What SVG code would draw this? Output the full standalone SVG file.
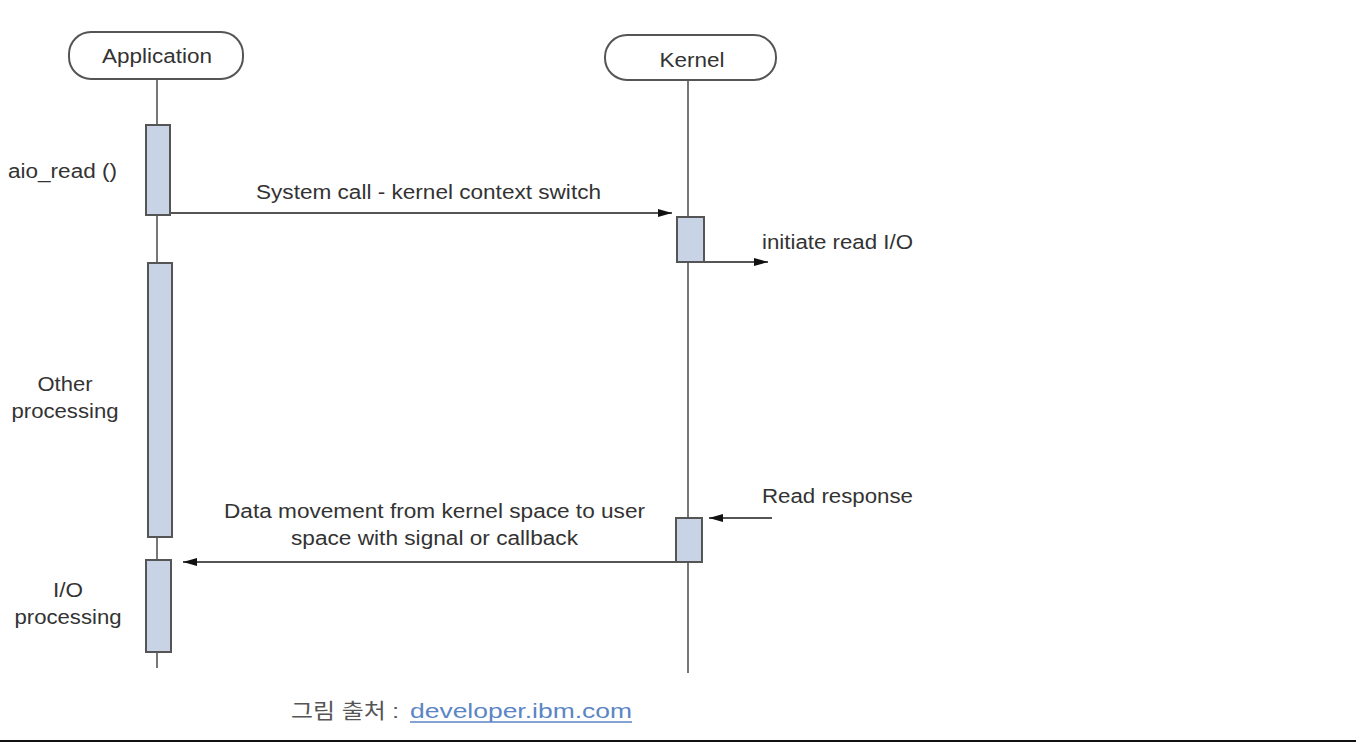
<svg xmlns="http://www.w3.org/2000/svg" width="1356" height="742" viewBox="0 0 1356 742">
<defs>
<style>
.lbl{font-family:"Liberation Sans",Arial,sans-serif;font-size:20px;fill:#333;}
.head{fill:#fff;stroke:#555;stroke-width:2;}
.life{stroke:#777;stroke-width:2;fill:none;}
.act{fill:#c9d3e6;stroke:#555;stroke-width:2;}
.msg{stroke:#555;stroke-width:2;fill:none;}
.cap{font-family:"Liberation Sans","Noto Sans CJK KR",sans-serif;font-size:21px;fill:#555;}
.link{font-family:"Liberation Sans",sans-serif;font-size:21px;fill:#5b85c4;}
</style>
<marker id="ah" viewBox="0 0 14 10" refX="14" refY="5" markerWidth="14" markerHeight="10" markerUnits="userSpaceOnUse" orient="auto">
<path d="M0,1 L14,5 L0,9 Z" fill="#111"/>
</marker>
</defs>
<rect width="1356" height="742" fill="#fff"/>

<g id="lifelines">
<line class="life" x1="157" y1="79" x2="157" y2="668"/>
<line class="life" x1="688" y1="80" x2="688" y2="673"/>
</g>

<g id="application">
<rect class="head" x="69" y="32" width="174" height="47" rx="22" ry="22"/>
<text class="lbl" x="157" y="63" text-anchor="middle" textLength="110" lengthAdjust="spacingAndGlyphs">Application</text>
</g>

<g id="kernel">
<rect class="head" x="605" y="35" width="171" height="45" rx="22" ry="22"/>
<text class="lbl" x="692" y="67" text-anchor="middle" textLength="65" lengthAdjust="spacingAndGlyphs">Kernel</text>
</g>

<g id="app-act-aio-read">
<rect class="act" x="146" y="125" width="24" height="90"/>
</g>
<g id="app-act-other">
<rect class="act" x="148" y="263" width="24" height="274"/>
</g>
<g id="app-act-io">
<rect class="act" x="146" y="560" width="25" height="92"/>
</g>
<g id="kernel-act-1">
<rect class="act" x="677" y="217" width="27" height="45"/>
</g>
<g id="kernel-act-2">
<rect class="act" x="676" y="518" width="26" height="44"/>
</g>

<g id="connectors">
<line class="msg" x1="170" y1="213" x2="672" y2="213" marker-end="url(#ah)"/>
<line class="msg" x1="704" y1="262" x2="768" y2="262" marker-end="url(#ah)"/>
<line class="msg" x1="772" y1="518" x2="709" y2="518" marker-end="url(#ah)"/>
<line class="msg" x1="676" y1="562" x2="183" y2="562" marker-end="url(#ah)"/>
</g>

<g id="labels">
<text class="lbl" x="256" y="199" textLength="345" lengthAdjust="spacingAndGlyphs">System call - kernel context switch</text>
<text class="lbl" x="762" y="249" textLength="151" lengthAdjust="spacingAndGlyphs">initiate read I/O</text>
<text class="lbl" x="762" y="503" textLength="151" lengthAdjust="spacingAndGlyphs">Read response</text>
<text class="lbl" x="224" y="518" textLength="421" lengthAdjust="spacingAndGlyphs">Data movement from kernel space to user</text>
<text class="lbl" x="291" y="545" textLength="287" lengthAdjust="spacingAndGlyphs">space with signal or callback</text>
<text class="lbl" x="8" y="178" textLength="109" lengthAdjust="spacingAndGlyphs">aio_read ()</text>
<text class="lbl" x="65" y="391" text-anchor="middle" textLength="55" lengthAdjust="spacingAndGlyphs">Other</text>
<text class="lbl" x="65" y="418" text-anchor="middle" textLength="107" lengthAdjust="spacingAndGlyphs">processing</text>
<text class="lbl" x="68" y="597" text-anchor="middle" textLength="30" lengthAdjust="spacingAndGlyphs">I/O</text>
<text class="lbl" x="68" y="624" text-anchor="middle" textLength="107" lengthAdjust="spacingAndGlyphs">processing</text>
</g>

<g id="caption">
<text class="cap" x="291" y="718" textLength="108" lengthAdjust="spacingAndGlyphs">그림 출처 :</text>
<text class="link" x="410" y="718" textLength="222" lengthAdjust="spacingAndGlyphs">developer.ibm.com</text>
<line x1="410" y1="722" x2="632" y2="722" stroke="#5b85c4" stroke-width="1.5"/>
</g>

<line x1="0" y1="741" x2="1356" y2="741" stroke="#111" stroke-width="2"/>
</svg>
